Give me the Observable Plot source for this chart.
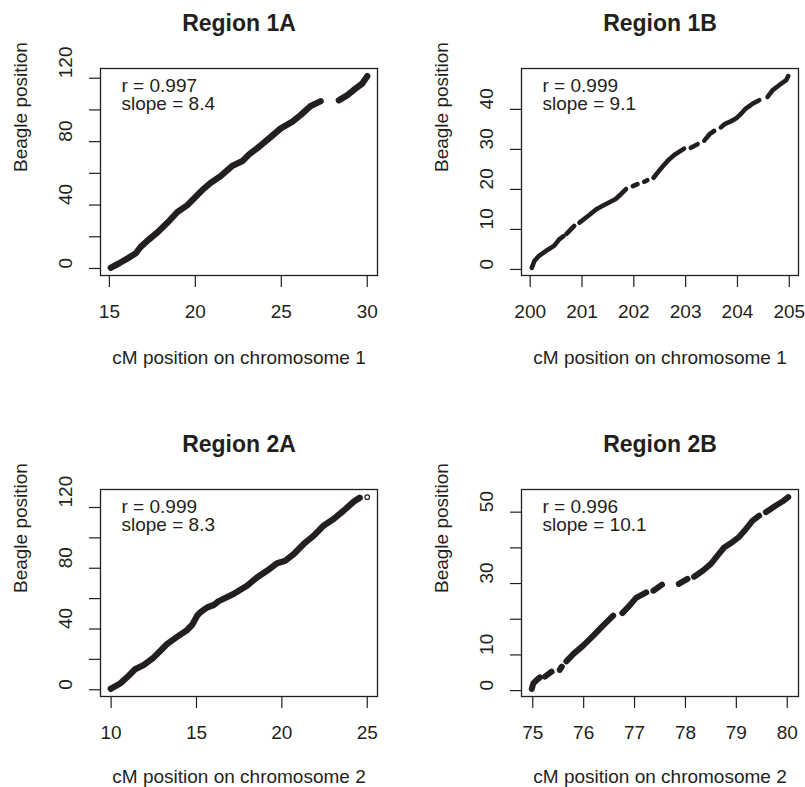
<!DOCTYPE html>
<html>
<head>
<meta charset="utf-8">
<script src="https://cdn.jsdelivr.net/npm/d3@7"></script>
<script src="https://cdn.jsdelivr.net/npm/@observablehq/plot@0.6"></script>
<style>
  html, body { margin: 0; padding: 0; background: #fff; }
  #root { position: relative; width: 805px; height: 787px; background: #fff; overflow: hidden; }
</style>
</head>
<body>
<div id="root"></div>
<script>
// ---------- Data ----------
const titles = ["Region 1A", "Region 1B", "Region 2A", "Region 2B"];
const xLabels = ["cM position on chromosome 1", "cM position on chromosome 1",
                 "cM position on chromosome 2", "cM position on chromosome 2"];
const yLabel = "Beagle position";
const rValues = ["0.997", "0.999", "0.999", "0.996"];
const slopeValues = ["8.4", "9.1", "8.3", "10.1"];

// Region 1A
const cm1A = [15.08,15.56,16.05,16.53,16.82,17.3,17.79,18.37,18.95,19.53,20.02,20.5,20.89,21.47,22.15,22.73,23.12,23.7,24.28,24.96,25.64,26.12,26.7,27.29,
              28.35,28.84,29.32,29.71,30.0];
const beagle1A = [0.4,3.2,6.3,9.5,13.6,18.3,22.7,28.8,35.5,39.9,45.2,50.4,54,58.2,64.7,67.7,71.9,76.7,82,88.3,92.5,96.7,102.4,105.5,
                  106.1,109.3,113.5,116.6,121.3];
const run1A = [1,1,1,1,1,1,1,1,1,1,1,1,1,1,1,1,1,1,1,1,1,1,1,1,
               2,2,2,2,2];

// Region 1B
const cm1B = [200.03,200.08,200.17,200.3,200.46,200.56,200.64,
              200.7,200.85,
              200.95,201.14,201.27,201.4,201.53,201.65,201.75,201.85,
              201.98,202.07,
              202.2,202.26,
              202.38,202.49,202.59,202.68,202.78,202.91,202.97,
              203.1,203.23,
              203.36,203.46,203.55,
              203.68,203.75,203.87,203.97,204.07,204.16,204.29,204.42,
              204.58,204.68,204.81,204.94,204.98];
const beagle1B = [0.4,2.1,3.4,4.6,5.9,7.5,8.3,
                  8.9,10.9,
                  11.7,13.6,15.0,15.9,16.8,17.6,18.8,20.1,
                  20.8,21.3,
                  21.9,22.3,
                  22.9,24.7,26.2,27.5,28.6,29.7,30.2,
                  30.4,31.3,
                  32.2,33.8,34.6,
                  35.5,36.3,37.0,37.7,38.9,40.2,41.4,42.3,
                  43.1,44.8,46.1,47.3,48.3];
const run1B = [1,1,1,1,1,1,1, 2,2, 3,3,3,3,3,3,3,3, 4,4, 5,5, 6,6,6,6,6,6,6, 7,7, 8,8,8,
               9,9,9,9,9,9,9,9, 10,10,10,10,10];

// Region 2A
const cm2A = [9.98,10.06,10.54,11.03,11.42,11.91,12.5,12.89,13.28,13.87,14.45,14.75,15.04,15.23,15.62,16.01,16.29,
              16.44,17.18,17.97,18.55,19.14,19.72,20.21,20.7,21.28,21.87,22.45,23.04,23.63,24.21,24.56];
const beagle2A = [0.6,1.1,4.2,9.2,13.6,16.3,21.3,25.7,30.1,34.9,39.3,42.8,48.8,51.0,54.2,55.8,58.2,
                  59.1,63.1,68.6,74,78.4,83.3,85,89.4,96,101.5,108.1,112.5,118,123.9,126.4];
const run2A = [1,1,1,1,1,1,1,1,1,1,1,1,1,1,1,1,1,
               2,2,2,2,2,2,2,2,2,2,2,2,2,2,2];
const openCm2A = [25.0];
const openBeagle2A = [126.8];

// Region 2B
const cm2B = [74.98,75.01,75.08,75.14,
              75.24,75.37,
              75.53,75.57,
              75.66,75.8,75.99,76.19,76.38,76.58,
              76.76,76.9,77.03,77.23,
              77.37,77.54,
              77.87,78.04,
              78.17,78.34,78.5,78.63,78.76,78.92,79.05,79.19,79.32,79.45,
              79.58,79.77,79.93,80.02];
const beagle2B = [0.5,2.0,3.0,3.7,
                  3.9,5.3,
                  5.8,6.7,
                  8.2,10.3,12.6,15.4,18.2,21.0,
                  21.7,23.8,26.0,27.5,
                  28.0,29.7,
                  29.9,31.3,
                  31.9,33.6,35.5,37.8,40.1,41.6,43.0,45.3,47.6,49.0,
                  50.0,51.8,53.2,54.2];
const run2B = [1,1,1,1, 2,2, 3,3, 4,4,4,4,4,4, 5,5,5,5, 6,6, 7,7,
               8,8,8,8,8,8,8,8,8,8, 9,9,9,9];

// Tick values
const xTicks1A = [15, 20, 25, 30];
const xTicks1B = [200, 201, 202, 203, 204, 205];
const xTicks2A = [10, 15, 20, 25];
const xTicks2B = [75, 76, 77, 78, 79, 80];
const yTicks1A = [0, 20, 40, 60, 80, 100, 120];
const yTickLabels1A = [0, 40, 80, 120];
const yTicks1B = [0, 10, 20, 30, 40];
const yTickLabels1B = [0, 10, 20, 30, 40];
const yTicks2A = [0, 20, 40, 60, 80, 100, 120];
const yTickLabels2A = [0, 40, 80, 120];
const yTicks2B = [0, 10, 20, 30, 40, 50];
const yTickLabels2B = [0, 10, 30, 50];

// ---------- Drawing ----------
const ink = "#231f20";
const FONT = '"Liberation Sans", Arial, Helvetica, sans-serif';
function ext(a) { const [lo, hi] = d3.extent(a); const d = (hi - lo) * 0.04; return [lo - d, hi + d]; }

function panel(p) {
  const data = p.xs.map((x, i) => ({x, y: p.ys[i], s: p.run[i]}));
  const open = (p.ox || []).map((x, i) => ({x, y: p.oy[i]}));
  const allX = p.xs.concat(p.ox || []);
  const allY = p.ys.concat(p.oy || []);
  const chart = Plot.plot({
    width: p.w, height: p.h,
    marginLeft: p.ml, marginRight: p.mr, marginTop: 68, marginBottom: p.h - 275,
    style: {background: "transparent", overflow: "visible", fontFamily: FONT, fontSize: "19px", color: ink},
    x: {domain: ext(allX)},
    y: {domain: ext(allY)},
    marks: [
      Plot.line(data, {x: "x", y: "y", z: "s", stroke: ink, strokeWidth: p.lw, strokeLinecap: "round", strokeLinejoin: "round"}),
      Plot.dot(open, {x: "x", y: "y", r: 2.3, stroke: ink, strokeWidth: 1.2, fill: "white"}),
      Plot.frame({stroke: ink, strokeWidth: 1.3}),
      Plot.axisX(p.xt, {tickSize: 12, tickFormat: () => "", label: null, stroke: ink, strokeWidth: 1.2}),
      Plot.axisY(p.yt, {tickSize: 11, tickFormat: () => "", label: null, stroke: ink, strokeWidth: 1.2}),
      Plot.text(p.xt, {x: d => d, text: d => String(d), frameAnchor: "bottom", dy: 36, lineAnchor: "middle", fontSize: 19, fill: ink}),
      Plot.text(p.yl, {y: d => d, text: d => String(d), frameAnchor: "left", dx: -35, rotate: -90, lineAnchor: "middle", fontSize: 19, fill: ink}),
      Plot.text([p.xlabel], {text: d => d, frameAnchor: "bottom", dy: p.xlabDy, lineAnchor: "middle", fontSize: 19, fill: ink}),
      Plot.text([yLabel], {text: d => d, frameAnchor: "left", dx: -80, rotate: -90, lineAnchor: "middle", fontSize: 19, fill: ink}),
      Plot.text([p.title], {text: d => d, frameAnchor: "top", dy: -44.7, lineAnchor: "middle", fontSize: 23, fontWeight: "bold", fill: ink}),
      Plot.text([`r = ${p.r}\nslope = ${p.slope}`], {text: d => d, frameAnchor: "top-left", dx: 21, dy: 9.5, lineAnchor: "top", textAnchor: "start", lineHeight: 1, fontSize: 19, fill: ink})
    ]
  });
  chart.style.position = "absolute";
  chart.style.left = p.left + "px";
  chart.style.top = p.top + "px";
  chart.style.maxWidth = "none";
  document.getElementById("root").appendChild(chart);
}

panel({title: titles[0], xlabel: xLabels[0], r: rValues[0], slope: slopeValues[0],
       xs: cm1A, ys: beagle1A, run: run1A, xt: xTicks1A, yt: yTicks1A, yl: yTickLabels1A,
       left: 0, top: 0, w: 402, h: 421, ml: 100, mr: 25, lw: 6.3, xlabDy: 82.6});
panel({title: titles[1], xlabel: xLabels[1], r: rValues[1], slope: slopeValues[1],
       xs: cm1B, ys: beagle1B, run: run1B, xt: xTicks1B, yt: yTicks1B, yl: yTickLabels1B,
       left: 402, top: 0, w: 403, h: 421, ml: 119, mr: 7, lw: 4.6, xlabDy: 82.6});
panel({title: titles[2], xlabel: xLabels[2], r: rValues[2], slope: slopeValues[2],
       xs: cm2A, ys: beagle2A, run: run2A, ox: openCm2A, oy: openBeagle2A, xt: xTicks2A, yt: yTicks2A, yl: yTickLabels2A,
       left: 0, top: 421, w: 402, h: 366, ml: 100, mr: 25, lw: 6.3, xlabDy: 80});
panel({title: titles[3], xlabel: xLabels[3], r: rValues[3], slope: slopeValues[3],
       xs: cm2B, ys: beagle2B, run: run2B, xt: xTicks2B, yt: yTicks2B, yl: yTickLabels2B,
       left: 402, top: 421, w: 403, h: 366, ml: 119, mr: 7, lw: 6, xlabDy: 80});
</script>
</body>
</html>
